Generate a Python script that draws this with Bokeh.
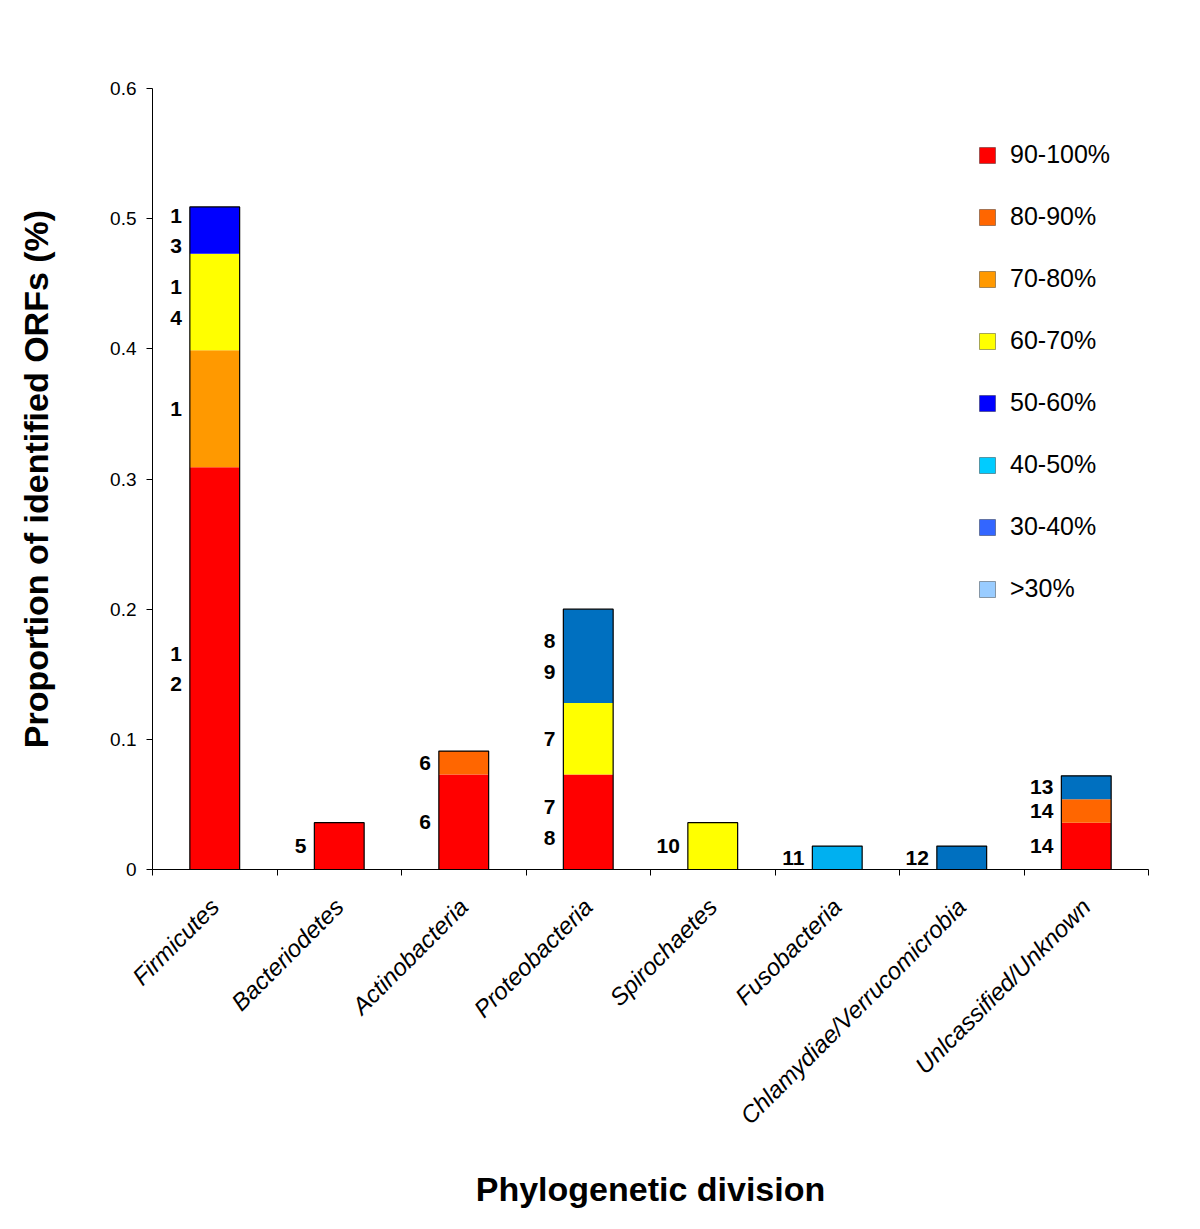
import numpy as np
from bokeh.plotting import figure
from bokeh.models import ColumnDataSource, FixedTicker, Legend, LegendItem, Range1d
from bokeh.core.properties import value
from bokeh.embed import file_html
from bokeh.resources import INLINE

categories = ["Firmicutes", "Bacteriodetes", "Actinobacteria", "Proteobacteria",
              "Spirochaetes", "Fusobacteria", "Chlamydiae/Verrucomicrobia",
              "Unlcassified/Unknown"]
series_names = ["90-100%", "80-90%", "70-80%", "60-70%", "50-60%", "40-50%", "30-40%", ">30%"]

s90_100 = [0.309, 0.036, 0.073, 0.073, 0.0, 0.0, 0.0, 0.036]
s80_90 = [0.0, 0.0, 0.018, 0.0, 0.0, 0.0, 0.0, 0.018]
s70_80 = [0.090, 0.0, 0.0, 0.0, 0.0, 0.0, 0.0, 0.0]
s60_70 = [0.074, 0.0, 0.0, 0.055, 0.036, 0.0, 0.0, 0.0]
s50_60 = [0.036, 0.0, 0.0, 0.0, 0.0, 0.0, 0.0, 0.0]
s40_50 = [0.0, 0.0, 0.0, 0.0, 0.0, 0.018, 0.0, 0.0]
s30_40 = [0.0, 0.0, 0.0, 0.072, 0.0, 0.0, 0.018, 0.018]
s_lt30 = [0.0, 0.0, 0.0, 0.0, 0.0, 0.0, 0.0, 0.0]

lab90_100 = ["1\n2", "5", "6", "7\n8", "", "", "", "14"]
lab80_90 = ["", "", "6", "", "", "", "", "14"]
lab70_80 = ["1", "", "", "", "", "", "", ""]
lab60_70 = ["1\n4", "", "", "7", "10", "", "", ""]
lab50_60 = ["1\n3", "", "", "", "", "", "", ""]
lab40_50 = ["", "", "", "", "", "11", "", ""]
lab30_40 = ["", "", "", "8\n9", "", "", "12", "13"]
lab_lt30 = ["", "", "", "", "", "", "", ""]

y_ticks = [0.0, 0.1, 0.2, 0.3, 0.4, 0.5, 0.6]
y_tick_labels = ["0", "0.1", "0.2", "0.3", "0.4", "0.5", "0.6"]

bar_colors = ["#FF0000", "#FF6600", "#FF9900", "#FFFF00", "#0000FF", "#00B0F0", "#0070C0", "#99CCFF"]
legend_colors = ["#FF0000", "#FF6600", "#FF9900", "#FFFF00", "#0000FF", "#00CCFF", "#3366FF", "#99CCFF"]

series = [s90_100, s80_90, s70_80, s60_70, s50_60, s40_50, s30_40, s_lt30]
labels = [lab90_100, lab80_90, lab70_80, lab60_70, lab50_60, lab40_50, lab30_40, lab_lt30]

FONT = "Liberation Sans"
BAR_W = 0.4
n = len(categories)
xc = np.arange(n) + 0.5

p = figure(width=1188, height=1210, output_backend="svg", toolbar_location=None,
           x_range=Range1d(0, n), y_range=Range1d(0, 0.6),
           min_border_left=152, min_border_top=88, min_border_right=40, min_border_bottom=340)
p.outline_line_color = None
p.xgrid.grid_line_color = None
p.ygrid.grid_line_color = None
p.background_fill_color = "white"
p.border_fill_color = "white"

# stacked segments
bottom = np.zeros(n)
lx, ly, lt = [], [], []
for vals, col, labs in zip(series, bar_colors, labels):
    v = np.array(vals)
    src = ColumnDataSource(dict(x=xc, top=bottom + v, bottom=bottom))
    p.vbar(x="x", top="top", bottom="bottom", width=BAR_W, source=src,
           fill_color=col, line_color=None)
    for i, t in enumerate(labs):
        if t:
            lx.append(xc[i] - BAR_W / 2)
            ly.append(bottom[i] + v[i] / 2)
            lt.append(t)
    bottom = bottom + v

# outline of the whole stack
p.vbar(x=xc, top=bottom, bottom=0, width=BAR_W, fill_color=None, line_color="black", line_width=1.2)

# segment labels
p.text(x=lx, y=ly, text=lt, x_offset=-8, text_align="right", text_baseline="middle",
       text_font=value(FONT), text_font_style="bold", text_font_size="21px",
       text_line_height=1.33, text_color="black")

# legend (custom colour swatches; the dummy renderers hold no visible data)
items = []
for name, col in zip(series_names, legend_colors):
    r = p.vbar(x=[np.nan], top=[np.nan], width=0.1, fill_color=col,
               line_color="black", line_alpha=0.35)
    items.append(LegendItem(label=name, renderers=[r]))
legend = Legend(items=items, location=(825, 266), orientation="vertical",
                glyph_width=20, glyph_height=20, label_height=20, spacing=33,
                label_standoff=13, padding=0, margin=0,
                border_line_color=None, background_fill_alpha=0,
                label_text_font=FONT, label_text_font_size="25px", label_text_color="black")
p.add_layout(legend, "center")

# x axis
xa = p.xaxis[0]
xa.ticker = FixedTicker(ticks=list(xc), minor_ticks=list(range(n + 1)))
xa.major_label_overrides = {float(x): c for x, c in zip(xc, categories)}
xa.major_tick_line_color = None
xa.minor_tick_line_color = "black"
xa.minor_tick_out = 6
xa.minor_tick_in = 0
xa.major_label_orientation = np.pi / 4
xa.major_label_text_font = FONT
xa.major_label_text_font_style = "italic"
xa.major_label_text_font_size = "24px"
xa.major_label_text_color = "black"
xa.major_label_standoff = 27
xa.axis_line_color = "black"
xa.axis_label = "Phylogenetic division"
xa.axis_label_text_font = FONT
xa.axis_label_text_font_style = "bold"
xa.axis_label_text_font_size = "34px"
xa.axis_label_text_color = "black"
xa.axis_label_standoff = 28

ya = p.yaxis[0]
ya.ticker = FixedTicker(ticks=y_ticks, minor_ticks=[])
ya.major_label_overrides = {float(t): s for t, s in zip(y_ticks, y_tick_labels)}
ya.major_tick_out = 6
ya.major_tick_in = 0
ya.major_tick_line_color = "black"
ya.minor_tick_line_color = None
ya.major_label_text_font = FONT
ya.major_label_text_font_size = "19px"
ya.major_label_text_color = "black"
ya.major_label_standoff = 10
ya.axis_line_color = "black"
ya.axis_label = "Proportion of identified ORFs (%)"
ya.axis_label_text_font = FONT
ya.axis_label_text_font_style = "bold"
ya.axis_label_text_font_size = "34px"
ya.axis_label_text_color = "black"
ya.axis_label_standoff = 52

open("out.html", "w").write(file_html(p, INLINE))
